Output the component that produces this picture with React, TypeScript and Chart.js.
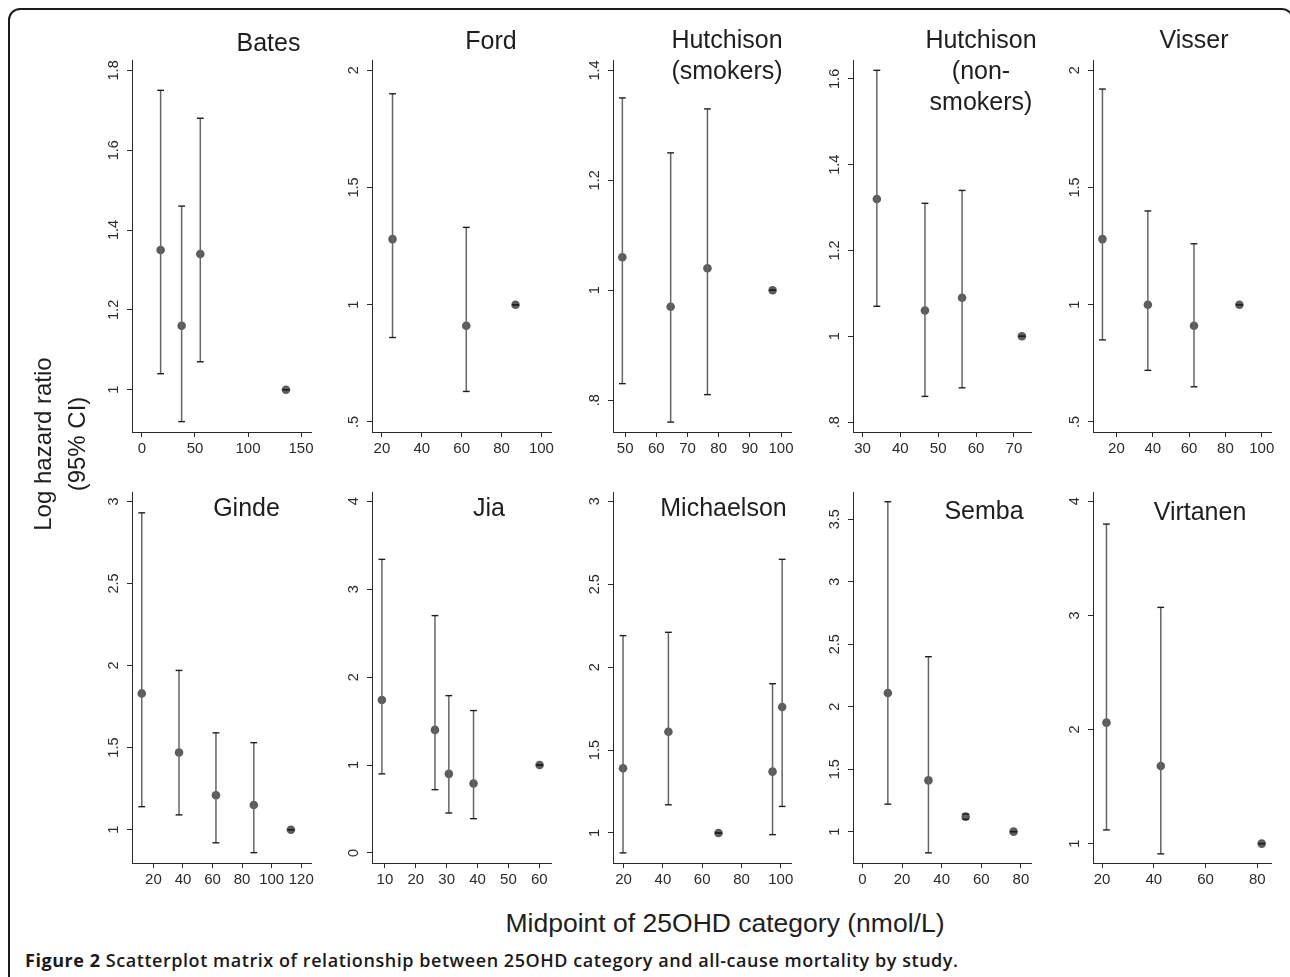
import React, { useEffect, useRef } from "react";
import { Chart, registerables } from "chart.js";

Chart.register(...registerables);

// ---------- Data ----------
// Bates
const batesX = [17.6, 37.4, 55.0, 135.8];
const batesHR = [1.35, 1.16, 1.34, 1.0];
const batesLo = [1.04, 0.92, 1.07, 1.0];
const batesHi = [1.75, 1.46, 1.68, 1.0];
const batesXTicks = [0, 50, 100, 150];
const batesYTicks = [1, 1.2, 1.4, 1.6, 1.8];

// Ford
const fordX = [25.3, 62.3, 87.0];
const fordHR = [1.28, 0.91, 1.0];
const fordLo = [0.86, 0.63, 1.0];
const fordHi = [1.9, 1.33, 1.0];
const fordXTicks = [20, 40, 60, 80, 100];
const fordYTicks = [0.5, 1, 1.5, 2];

// Hutchison (smokers)
const hutchSX = [49.1, 64.6, 76.4, 97.3];
const hutchSHR = [1.06, 0.97, 1.04, 1.0];
const hutchSLo = [0.83, 0.76, 0.81, 1.0];
const hutchSHi = [1.35, 1.25, 1.33, 1.0];
const hutchSXTicks = [50, 60, 70, 80, 90, 100];
const hutchSYTicks = [0.8, 1, 1.2, 1.4];

// Hutchison (non-smokers)
const hutchNX = [33.8, 46.5, 56.3, 72.1];
const hutchNHR = [1.32, 1.06, 1.09, 1.0];
const hutchNLo = [1.07, 0.86, 0.88, 1.0];
const hutchNHi = [1.62, 1.31, 1.34, 1.0];
const hutchNXTicks = [30, 40, 50, 60, 70];
const hutchNYTicks = [0.8, 1, 1.2, 1.4, 1.6];

// Visser
const visserX = [12.3, 37.3, 62.7, 87.7];
const visserHR = [1.28, 1.0, 0.91, 1.0];
const visserLo = [0.85, 0.72, 0.65, 1.0];
const visserHi = [1.92, 1.4, 1.26, 1.0];
const visserXTicks = [20, 40, 60, 80, 100];
const visserYTicks = [0.5, 1, 1.5, 2];

// Ginde
const gindeX = [12.1, 37.3, 62.3, 87.9, 113.0];
const gindeHR = [1.83, 1.47, 1.21, 1.15, 1.0];
const gindeLo = [1.14, 1.09, 0.92, 0.86, 1.0];
const gindeHi = [2.93, 1.97, 1.59, 1.53, 1.0];
const gindeXTicks = [20, 40, 60, 80, 100, 120];
const gindeYTicks = [1, 1.5, 2, 2.5, 3];

// Jia
const jiaX = [9.0, 26.2, 30.7, 38.7, 60.1];
const jiaHR = [1.74, 1.4, 0.9, 0.79, 1.0];
const jiaLo = [0.9, 0.72, 0.455, 0.39, 1.0];
const jiaHi = [3.34, 2.7, 1.79, 1.62, 1.0];
const jiaXTicks = [10, 20, 30, 40, 50, 60];
const jiaYTicks = [0, 1, 2, 3, 4];

// Michaelson
const michX = [19.7, 42.8, 68.3, 95.8, 100.7];
const michHR = [1.39, 1.61, 1.0, 1.37, 1.76];
const michLo = [0.88, 1.17, 1.0, 0.99, 1.16];
const michHi = [2.19, 2.21, 1.0, 1.9, 2.65];
const michXTicks = [20, 40, 60, 80, 100];
const michYTicks = [1, 1.5, 2, 2.5, 3];

// Semba
const sembaX = [12.8, 33.3, 52.1, 76.3];
const sembaHR = [2.11, 1.41, 1.12, 1.0];
const sembaLo = [1.22, 0.83, 1.1, 1.0];
const sembaHi = [3.64, 2.4, 1.14, 1.0];
const sembaXTicks = [0, 20, 40, 60, 80];
const sembaYTicks = [1, 1.5, 2, 2.5, 3, 3.5];

// Virtanen
const virtX = [21.7, 42.7, 81.7];
const virtHR = [2.06, 1.68, 1.0];
const virtLo = [1.12, 0.91, 1.0];
const virtHi = [3.8, 3.07, 1.0];
const virtXTicks = [20, 40, 60, 80];
const virtYTicks = [1, 2, 3, 4];

const yAxisTitle = ["Log hazard ratio", "(95% CI)"];
const xAxisTitle = "Midpoint of 25OHD category (nmol/L)";
const captionBold = "Figure 2";
const captionRest = " Scatterplot matrix of relationship between 25OHD category and all-cause mortality by study.";

// ---------- Styling / layout ----------
const FONT = '"Liberation Sans", Arial, Helvetica, sans-serif';
const Y_TICK_PX = 14.5;
const X_TICK_PX = 15;
const TICK_LEN = 5;
const LABEL_GAP = 18;
const AXIS_W = 50;
const PAD_TOP = 24;
const PAD_RIGHT = 25;
const X_AXIS_H = 40;
const INK = "#2a2a2a";

type Panel = {
  title: string[];
  titleX: number;
  titleBase: number;
  x: number[];
  hr: number[];
  lo: number[];
  hi: number[];
  xTicks: number[];
  yTicks: number[];
  xMin: number;
  xMax: number;
  yMin: number;
  yMax: number;
  left: number;
  top: number;
  w: number;
  h: number;
};

const panels: Panel[] = [
  { title: ["Bates"], titleX: 268.5, titleBase: 51, x: batesX, hr: batesHR, lo: batesLo, hi: batesHi, xTicks: batesXTicks, yTicks: batesYTicks, xMin: -9.4, xMax: 159.4, yMin: 0.894, yMax: 1.826, left: 132, top: 60, w: 179, h: 372 },
  { title: ["Ford"], titleX: 491, titleBase: 49.5, x: fordX, hr: fordHR, lo: fordLo, hi: fordHi, xTicks: fordXTicks, yTicks: fordYTicks, xMin: 15, xMax: 104.8, yMin: 0.457, yMax: 2.044, left: 372, top: 60, w: 179, h: 372 },
  { title: ["Hutchison", "(smokers)"], titleX: 727, titleBase: 48.5, x: hutchSX, hr: hutchSHR, lo: hutchSLo, hi: hutchSHi, xTicks: hutchSXTicks, yTicks: hutchSYTicks, xMin: 46.1, xMax: 103.2, yMin: 0.742, yMax: 1.419, left: 613, top: 60, w: 178, h: 372 },
  { title: ["Hutchison", "(non-", "smokers)"], titleX: 981, titleBase: 48.5, x: hutchNX, hr: hutchNHR, lo: hutchNLo, hi: hutchNHi, xTicks: hutchNXTicks, yTicks: hutchNYTicks, xMin: 27.5, xMax: 74.5, yMin: 0.777, yMax: 1.644, left: 853, top: 60, w: 178, h: 372 },
  { title: ["Visser"], titleX: 1194, titleBase: 48.5, x: visserX, hr: visserHR, lo: visserLo, hi: visserHi, xTicks: visserXTicks, yTicks: visserYTicks, xMin: 7.1, xMax: 105.1, yMin: 0.457, yMax: 2.044, left: 1093, top: 60, w: 178, h: 372 },
  { title: ["Ginde"], titleX: 246.5, titleBase: 516, x: gindeX, hr: gindeHR, lo: gindeLo, hi: gindeHi, xTicks: gindeXTicks, yTicks: gindeYTicks, xMin: 5.5, xMax: 126.6, yMin: 0.797, yMax: 3.057, left: 132, top: 492, w: 179, h: 371 },
  { title: ["Jia"], titleX: 489, titleBase: 516, x: jiaX, hr: jiaHR, lo: jiaLo, hi: jiaHi, xTicks: jiaXTicks, yTicks: jiaYTicks, xMin: 5.8, xMax: 63.8, yMin: -0.114, yMax: 4.106, left: 372, top: 492, w: 179, h: 371 },
  { title: ["Michaelson"], titleX: 723.5, titleBase: 516.5, x: michX, hr: michHR, lo: michLo, hi: michHi, xTicks: michXTicks, yTicks: michYTicks, xMin: 14.6, xMax: 105.2, yMin: 0.819, yMax: 3.056, left: 613, top: 492, w: 178, h: 371 },
  { title: ["Semba"], titleX: 984, titleBase: 519, x: sembaX, hr: sembaHR, lo: sembaLo, hi: sembaHi, xTicks: sembaXTicks, yTicks: sembaYTicks, xMin: -4.8, xMax: 85.1, yMin: 0.749, yMax: 3.718, left: 853, top: 492, w: 178, h: 371 },
  { title: ["Virtanen"], titleX: 1200, titleBase: 520, x: virtX, hr: virtHR, lo: virtLo, hi: virtHi, xTicks: virtXTicks, yTicks: virtYTicks, xMin: 16.5, xMax: 85.3, yMin: 0.83, yMax: 4.081, left: 1093, top: 492, w: 178, h: 371 },
];

function fmt(v: number): string {
  const r = Math.round(v * 1000) / 1000;
  let s = String(r);
  if (s.startsWith("0.")) s = s.slice(1);
  if (s.startsWith("-0.")) s = "-" + s.slice(2);
  return s;
}

function measureWidest(labels: string[]): number {
  const c = document.createElement("canvas");
  const ctx = c.getContext("2d");
  if (!ctx) return 0;
  ctx.font = `${Y_TICK_PX}px ${FONT}`;
  return Math.max(...labels.map((l) => ctx.measureText(l).width));
}

function PanelChart({ panel }: { panel: Panel }) {
  const ref = useRef<HTMLCanvasElement | null>(null);
  const cw = AXIS_W + panel.w + PAD_RIGHT;
  const ch = PAD_TOP + panel.h + X_AXIS_H;

  useEffect(() => {
    const canvas = ref.current;
    if (!canvas) return;
    const yLabels = panel.yTicks.map(fmt);
    const widest = measureWidest(yLabels);
    const yPad = Math.max(0, LABEL_GAP - TICK_LEN - widest / 2);

    const ciSets: any[] = panel.x.map((xv, i) => ({
      type: "line",
      data: [
        { x: xv, y: panel.lo[i] },
        { x: xv, y: panel.hi[i] },
      ],
      showLine: true,
      borderColor: "#666666",
      borderWidth: 1.5,
      pointStyle: "line",
      pointRadius: 3.4,
      pointHoverRadius: 3.4,
      pointBorderColor: "#1e1e1e",
      pointBackgroundColor: "#1e1e1e",
      pointBorderWidth: 1.4,
      order: 0,
      clip: false,
    }));
    const dots: any = {
      type: "scatter",
      data: panel.x.map((xv, i) => ({ x: xv, y: panel.hr[i] })),
      pointRadius: 4.3,
      pointHoverRadius: 4.3,
      pointBackgroundColor: "#5c5c5c",
      pointBorderColor: "#5c5c5c",
      pointBorderWidth: 0,
      showLine: false,
      order: 1,
      clip: false,
    };

    const chart = new Chart(canvas, {
      type: "scatter",
      data: { datasets: [...ciSets, dots] },
      options: {
        responsive: false,
        animation: false,
        events: [],
        layout: { padding: { left: 0, top: PAD_TOP, right: PAD_RIGHT, bottom: 0 } },
        plugins: {
          legend: { display: false },
          tooltip: { enabled: false },
          title: { display: false },
        },
        scales: {
          x: {
            type: "linear",
            position: "bottom",
            min: panel.xMin,
            max: panel.xMax,
            afterBuildTicks: (s: any) => {
              s.ticks = panel.xTicks.map((v) => ({ value: v }));
            },
            afterFit: (s: any) => {
              s.height = X_AXIS_H;
            },
            grid: {
              display: true,
              drawOnChartArea: false,
              drawTicks: true,
              tickLength: TICK_LEN,
              tickColor: INK,
              tickWidth: 1,
            },
            border: { display: true, color: INK, width: 1 },
            ticks: {
              autoSkip: false,
              minRotation: 0,
              maxRotation: 0,
              padding: 3,
              color: "#2a2a2a",
              font: { family: FONT, size: X_TICK_PX },
              callback: (v: any) => fmt(Number(v)),
            },
          },
          y: {
            type: "linear",
            position: "left",
            min: panel.yMin,
            max: panel.yMax,
            afterBuildTicks: (s: any) => {
              s.ticks = panel.yTicks.map((v) => ({ value: v }));
            },
            afterFit: (s: any) => {
              s.width = AXIS_W;
            },
            grid: {
              display: true,
              drawOnChartArea: false,
              drawTicks: true,
              tickLength: TICK_LEN,
              tickColor: INK,
              tickWidth: 1,
            },
            border: { display: true, color: INK, width: 1 },
            ticks: {
              autoSkip: false,
              minRotation: 90,
              maxRotation: 90,
              crossAlign: "center",
              padding: yPad,
              color: "#2a2a2a",
              font: { family: FONT, size: Y_TICK_PX },
              callback: (v: any) => fmt(Number(v)),
            },
          },
        },
      } as any,
    });
    return () => chart.destroy();
  }, [panel]);

  return (
    <canvas
      ref={ref}
      width={cw}
      height={ch}
      style={{
        position: "absolute",
        left: panel.left - AXIS_W,
        top: panel.top - PAD_TOP,
        width: cw,
        height: ch,
      }}
    />
  );
}

export default function App() {
  return (
    <div
      style={{
        position: "absolute",
        left: 0,
        top: 0,
        width: 1290,
        height: 977,
        overflow: "hidden",
        background: "#ffffff",
        fontFamily: FONT,
      }}
    >
      <div
        style={{
          position: "absolute",
          left: 8,
          top: 8,
          width: 1286,
          height: 1010,
          border: "2px solid #1c1c1c",
          borderRadius: 12,
          boxSizing: "border-box",
        }}
      />
      {panels.map((p, i) => (
        <PanelChart key={i} panel={p} />
      ))}
      {panels.map((p, i) => (
        <div
          key={"t" + i}
          style={{
            position: "absolute",
            left: p.titleX - 120,
            width: 240,
            top: p.titleBase - 24.2,
            textAlign: "center",
            fontSize: 25,
            lineHeight: "31px",
            color: "#1e1e1e",
            whiteSpace: "pre",
            fontFamily: FONT,
          }}
        >
          {p.title.join("\n")}
        </div>
      ))}
      <div
        style={{
          position: "absolute",
          left: 60 - 150,
          top: 444 - 34,
          width: 300,
          height: 68,
          transform: "rotate(-90deg)",
          transformOrigin: "50% 50%",
          textAlign: "center",
          fontSize: 24,
          lineHeight: "34px",
          color: "#1e1e1e",
          whiteSpace: "pre",
          fontFamily: FONT,
        }}
      >
        {yAxisTitle.join("\n")}
      </div>
      <div
        style={{
          position: "absolute",
          left: 725 - 300,
          width: 600,
          top: 906.5,
          textAlign: "center",
          fontSize: 26.5,
          lineHeight: "32px",
          color: "#1e1e1e",
          whiteSpace: "nowrap",
          fontFamily: FONT,
        }}
      >
        {xAxisTitle}
      </div>
      <div
        style={{
          position: "absolute",
          left: 25,
          top: 950,
          fontSize: 18,
          letterSpacing: "0.55px",
          lineHeight: "21px",
          color: "#1a1a1a",
          whiteSpace: "nowrap",
          fontFamily: '"Open Sans", "Noto Sans", sans-serif',
          fontWeight: 600,
        }}
      >
        <span style={{ fontWeight: 700 }}>{captionBold}</span>
        {captionRest}
      </div>
    </div>
  );
}
